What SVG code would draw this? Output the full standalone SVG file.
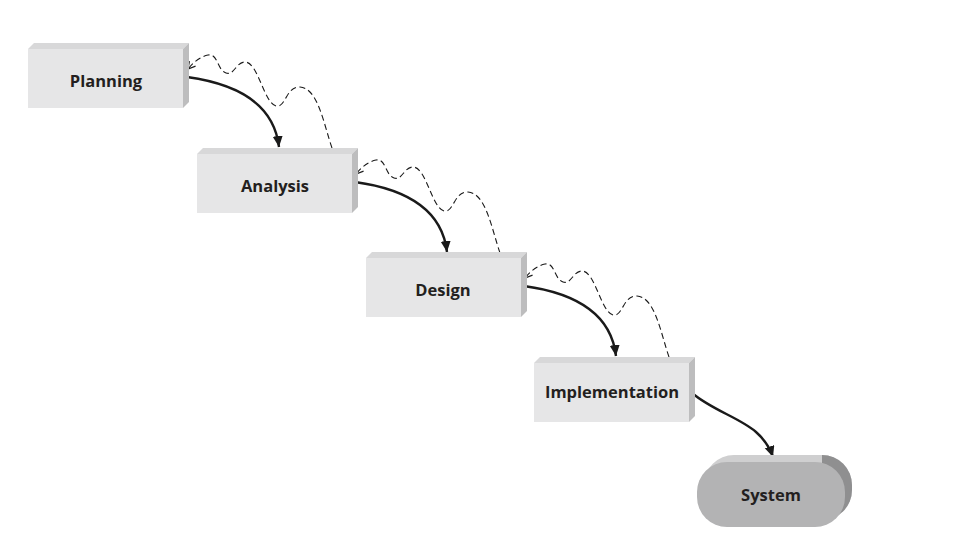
<svg xmlns="http://www.w3.org/2000/svg" width="976" height="555" viewBox="0 0 976 555">
<style>
.front{fill:#e6e6e7}
.top{fill:#d8d8d9}
.side{fill:#bdbdbe}
.lbl{font-family:"Open Sans",Lato,"Liberation Sans",sans-serif;font-weight:bold;font-size:16.5px;fill:#231f20;text-anchor:middle}
.solid{fill:none;stroke:#1a1a1a;stroke-width:2.4}
.dash{fill:none;stroke:#1a1a1a;stroke-width:1.1;stroke-dasharray:6 3.5}
</style>
<defs>
<marker id="ah" markerUnits="userSpaceOnUse" markerWidth="12" markerHeight="12" refX="11" refY="5" orient="auto">
<path d="M0,0 L11,5 L0,10 Z" fill="#1a1a1a"/>
</marker>
<marker id="ahs" markerUnits="userSpaceOnUse" markerWidth="12" markerHeight="12" refX="8" refY="5" orient="auto">
<path d="M1,1 L8,5 L1,9" fill="none" stroke="#1a1a1a" stroke-width="1.2"/>
</marker>
<g id="box">
<polygon class="top" points="0,0 6,-6 161,-6 155,0"/>
<polygon class="side" points="155,0 161,-6 161,53 155,59"/>
<rect class="front" x="0" y="0" width="155" height="59"/>
</g>
<path id="fb" d="M332,148 C324,125 318,88 300,87 C286,86 286,108 276,106 C264,103 258,62 245,62 C236,62 234,76 226,73 C217,70 218,53 208,55 C199,57 193,63 188,69"/>
<path id="fw" d="M187,77 C238,84 274,104 279,147"/>
<clipPath id="rc"><rect x="822" y="440" width="60" height="100"/></clipPath>
</defs>
<g id="connectors">
<use href="#fw" class="solid" marker-end="url(#ah)"/>
<use href="#fw" class="solid" marker-end="url(#ah)" transform="translate(168,105)"/>
<use href="#fw" class="solid" marker-end="url(#ah)" transform="translate(337,209)"/>
<path class="solid" d="M692,393 C712,410 740,418 756,432 C765,440 770,448 773,457" marker-end="url(#ah)"/>
<use href="#fb" class="dash" marker-end="url(#ahs)"/>
<use href="#fb" class="dash" marker-end="url(#ahs)" transform="translate(168,105)"/>
<use href="#fb" class="dash" marker-end="url(#ahs)" transform="translate(337,209)"/>
</g>
<g id="planning">
<use href="#box" transform="translate(28,49)"/>
<text class="lbl" x="106" y="87">Planning</text>
</g>
<g id="analysis">
<use href="#box" transform="translate(197,154)"/>
<text class="lbl" x="275" y="192">Analysis</text>
</g>
<g id="design">
<use href="#box" transform="translate(366,258)"/>
<text class="lbl" x="443" y="296">Design</text>
</g>
<g id="implementation">
<use href="#box" transform="translate(534,363)"/>
<text class="lbl" x="612" y="398">Implementation</text>
</g>
<g id="system">
<rect x="704" y="455" width="148" height="65" rx="30" fill="#cfcfd0"/>
<rect x="704" y="455" width="148" height="65" rx="30" fill="#8f8f90" clip-path="url(#rc)"/>
<rect x="697" y="462" width="148" height="65" rx="30" fill="#b3b3b4"/>
<text class="lbl" x="771" y="501">System</text>
</g>
</svg>
